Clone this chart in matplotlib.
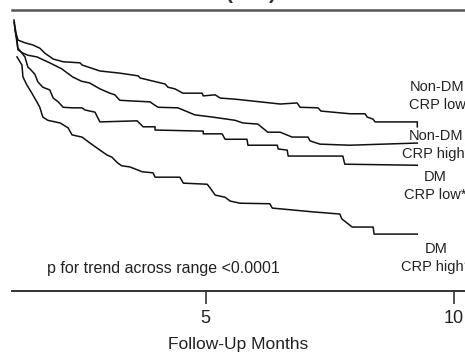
import matplotlib
matplotlib.use("Agg")
import matplotlib.pyplot as plt

plt.rcParams['font.family'] = ['Liberation Sans', 'DejaVu Sans']

# Follow-up time (months) and event-free proportion
nondm_low_t = [1.14, 1.18, 1.22, 1.36, 1.52, 1.66, 1.76, 1.93, 2.13, 2.47,
               2.51, 2.87, 3.27, 3.64, 3.68, 4.18, 4.24, 4.38, 4.54, 4.93,
               4.95, 5.19, 5.29, 5.59, 6.30, 6.50, 6.84, 6.90, 7.26, 7.32,
               7.91, 8.21, 8.25, 8.37, 8.41, 9.26, 9.26]
nondm_low_s = [1.000, 0.976, 0.963, 0.958, 0.954, 0.948, 0.939, 0.928, 0.923, 0.921,
               0.917, 0.906, 0.902, 0.897, 0.893, 0.882, 0.876, 0.873, 0.865, 0.865,
               0.860, 0.862, 0.856, 0.854, 0.847, 0.845, 0.847, 0.839, 0.838, 0.832,
               0.827, 0.827, 0.821, 0.817, 0.812, 0.812, 0.803]

nondm_high_t = [1.14, 1.18, 1.20, 1.22, 1.32, 1.42, 1.60, 1.86, 2.10, 2.32,
                2.50, 2.66, 2.87, 3.07, 3.17, 3.27, 3.44, 3.88, 3.94, 4.04,
                4.44, 4.78, 5.13, 5.59, 5.75, 6.05, 6.25, 6.50, 6.74, 7.06,
                7.10, 7.30, 7.90, 9.26]
nondm_high_s = [0.996, 0.972, 0.958, 0.945, 0.939, 0.935, 0.932, 0.921, 0.910, 0.895,
                0.887, 0.884, 0.873, 0.865, 0.862, 0.852, 0.851, 0.849, 0.845, 0.839,
                0.838, 0.825, 0.821, 0.815, 0.810, 0.808, 0.793, 0.793, 0.784, 0.784,
                0.777, 0.771, 0.769, 0.773]

dm_low_t = [1.16, 1.20, 1.22, 1.36, 1.42, 1.46, 1.56, 1.62, 1.72, 1.86,
            1.93, 2.03, 2.13, 2.31, 2.51, 2.57, 2.77, 2.87, 3.62, 3.74,
            3.98, 3.98, 4.95, 4.95, 5.33, 5.39, 5.83, 5.85, 6.44, 6.46,
            6.64, 6.66, 7.76, 7.80, 9.26]
dm_low_s = [0.982, 0.963, 0.948, 0.932, 0.913, 0.910, 0.900, 0.886, 0.876, 0.871,
            0.856, 0.849, 0.839, 0.838, 0.838, 0.834, 0.830, 0.812, 0.814, 0.803,
            0.803, 0.797, 0.795, 0.790, 0.790, 0.780, 0.780, 0.769, 0.769, 0.762,
            0.760, 0.749, 0.749, 0.734, 0.732]

dm_high_t = [1.20, 1.30, 1.32, 1.40, 1.50, 1.60, 1.66, 1.72, 1.82, 2.07,
             2.23, 2.31, 2.51, 2.67, 2.87, 3.01, 3.11, 3.23, 3.31, 3.47,
             3.64, 3.72, 3.94, 3.98, 4.48, 4.55, 5.03, 5.09, 5.19, 5.39,
             5.49, 5.69, 6.29, 6.34, 7.16, 7.70, 7.74, 7.95, 8.37, 8.39,
             9.26]
dm_high_s = [0.932, 0.917, 0.895, 0.880, 0.865, 0.849, 0.839, 0.821, 0.815, 0.810,
             0.801, 0.788, 0.784, 0.773, 0.760, 0.751, 0.747, 0.736, 0.731, 0.729,
             0.723, 0.720, 0.718, 0.710, 0.710, 0.699, 0.697, 0.690, 0.677, 0.673,
             0.666, 0.662, 0.661, 0.653, 0.646, 0.642, 0.633, 0.618, 0.618, 0.605,
             0.605]

x_ticks = [5, 10]
group_labels = ["Non-DM\nCRP low", "Non-DM\nCRP high*", "DM\nCRP low*", "DM\nCRP high\u2020"]

W, H = 465, 354


def px(x, y):
    # pixel position -> figure fraction
    return x / W, 1 - y / H


fig = plt.figure(figsize=(W / 100, H / 100), dpi=100)
ax = fig.add_axes([12 / W, 1 - 291 / H, 1 - 12 / W, (291 - 10) / H])

for t, s in [(nondm_low_t, nondm_low_s), (nondm_high_t, nondm_high_s),
             (dm_low_t, dm_low_s), (dm_high_t, dm_high_s)]:
    ax.plot(t, s, color='#111111', linewidth=1.1)

ax.set_xlim(1.10, 10.22)
ax.set_ylim(0.5, 1.0185)

# only top and bottom rules
ax.spines['left'].set_visible(False)
ax.spines['right'].set_visible(False)
ax.spines['top'].set_color('#555555')
ax.spines['top'].set_linewidth(1.8)
ax.spines['bottom'].set_color('#333333')
ax.spines['bottom'].set_linewidth(1.4)

ax.set_yticks([])
ax.set_xticks(x_ticks)
ax.set_xticklabels([str(v) for v in x_ticks])
ax.tick_params(axis='x', direction='out', length=9, width=1.2, color='#333333',
               labelsize=13, labelcolor='#222222', pad=5)
ax.set_xlabel("Follow-Up Months", fontsize=12.5, color='#222222', labelpad=7)

# clipped title above the frame
fig.text(*px(229, -1), "(", fontsize=15, fontweight='bold', color='#333333',
         ha='center', va='baseline')
fig.text(*px(272, -1), ")", fontsize=15, fontweight='bold', color='#333333',
         ha='center', va='baseline')

fig.text(*px(47, 269), "p for trend across range <0.0001", fontsize=11.5,
         color='#222222', ha='left', va='center')

label_pos = [(437, 96), (436, 145), (435, 186), (436, 258)]
for (lx, ly), lab in zip(label_pos, group_labels):
    fig.text(*px(lx, ly), lab, fontsize=10.5, color='#222222', ha='center',
             va='center', multialignment='center', linespacing=1.35)

fig.savefig("out.png", dpi=100)
